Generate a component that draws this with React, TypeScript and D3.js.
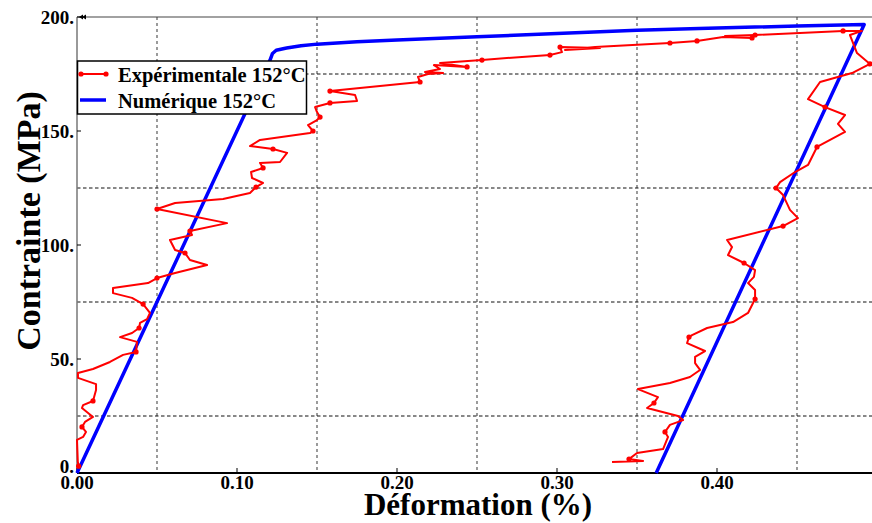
import React from "react";
import * as d3 from "d3";

const xTickValues = [0.0, 0.1, 0.2, 0.3, 0.4];
const xTickLabels = ["0.00", "0.10", "0.20", "0.30", "0.40"];
const xGridValues = [0.05, 0.15, 0.25, 0.35, 0.45];
const yTickValues = [0, 50, 100, 150, 200];
const yTickLabels = ["0.", "50.", "100.", "150.", "200."];
const yGridValues = [25, 75, 125, 175];

const expStrain = [
  0.001, 0.0005, 0.0, 0.0038, 0.0056, 0.0031, 0.005, 0.01, 0.0031, 0.0038,
  0.01, 0.0119, 0.0119, 0.0006, 0.0006, 0.01, 0.0206, 0.0288, 0.0369, 0.0375,
  0.0269, 0.0344, 0.0388, 0.0394, 0.0438, 0.0456, 0.0413, 0.0344, 0.0225, 0.0225,
  0.0444, 0.05, 0.0613, 0.0813, 0.0706, 0.0675, 0.0613, 0.0581, 0.0719, 0.0706,
  0.0938, 0.05, 0.0613, 0.0913, 0.1081, 0.1119, 0.1163, 0.1094, 0.1088, 0.1163,
  0.1144, 0.1269, 0.1313, 0.1225, 0.1081, 0.1144, 0.1456, 0.1475, 0.1444, 0.15,
  0.1519, 0.15, 0.1488, 0.1581, 0.175, 0.1738, 0.1581, 0.2144, 0.2131, 0.2194,
  0.2288, 0.2175, 0.2269, 0.2231, 0.2438, 0.2269, 0.2531, 0.2781, 0.2956, 0.3031,
  0.3019, 0.3269, 0.305, 0.3238, 0.3706, 0.3875, 0.4038, 0.4219, 0.405, 0.4238,
  0.4788, 0.4906, 0.4831, 0.4875, 0.4956, 0.4844, 0.4644, 0.4569, 0.4675, 0.48,
  0.4756, 0.48, 0.4625, 0.4569, 0.4488, 0.4394, 0.4369, 0.4413, 0.4456, 0.4506,
  0.4413, 0.4063, 0.4094, 0.4069, 0.4169, 0.4238, 0.4231, 0.4194, 0.4238, 0.4238,
  0.4194, 0.41, 0.3938, 0.3844, 0.3825, 0.3813, 0.3925, 0.3863, 0.3863, 0.3894,
  0.3831, 0.3706, 0.3506, 0.3631, 0.3606, 0.3563, 0.3756, 0.3788, 0.3706, 0.3675,
  0.3694, 0.3663, 0.35, 0.345, 0.3538, 0.3344,
];
const expStress = [
  3.0, 5.0, 14.5, 15.8, 18.0, 20.2, 22.4, 24.6, 28.5, 29.8,
  31.6, 36.4, 39.0, 41.7, 43.9, 45.6, 48.7, 51.8, 53.1, 57.5,
  59.6, 61.4, 63.6, 65.8, 67.5, 70.2, 74.1, 76.8, 78.9, 81.1,
  83.3, 85.5, 87.7, 91.2, 93.4, 96.5, 97.8, 102.2, 104.4, 106.1,
  109.6, 115.8, 118.4, 120.2, 122.8, 125.4, 127.2, 129.4, 132.0, 133.8,
  136.0, 136.4, 140.4, 142.1, 143.4, 146.1, 149.1, 150.0, 152.6, 154.8,
  156.1, 158.3, 160.5, 162.3, 163.2, 165.8, 167.5, 171.5, 173.7, 175.0,
  175.4, 175.9, 177.2, 178.9, 178.1, 179.8, 181.1, 182.5, 183.3, 184.6,
  186.8, 186.4, 185.5, 186.8, 188.6, 189.5, 191.2, 190.8, 191.7, 192.1,
  193.9, 193.9, 192.1, 184.2, 179.4, 175.4, 171.5, 164.0, 160.5, 157.0,
  153.1, 149.6, 143.0, 135.1, 132.0, 127.6, 125.0, 121.9, 115.4, 111.8,
  108.3, 102.2, 99.1, 95.6, 92.1, 89.0, 86.0, 83.3, 80.3, 76.3,
  70.2, 66.2, 63.6, 60.5, 59.6, 57.0, 53.5, 50.9, 48.2, 45.2,
  42.1, 39.5, 36.8, 33.3, 30.7, 28.5, 25.0, 23.2, 21.1, 18.0,
  15.8, 10.5, 8.8, 6.1, 5.3, 4.8,
];
const expMarkerIdx = [
  0, 5, 10, 18, 22, 26, 31, 35, 39, 41, 45, 49, 53, 57, 60, 63, 66, 67, 74, 76,
  78, 80, 84, 85, 87, 89, 90, 94, 98, 102, 106, 110, 114, 119, 124, 134, 139, 143,
];

const numStrain = [0, 0.1206, 0.1222, 0.1245, 0.131, 0.14, 0.15, 0.175, 0.2, 0.25, 0.3, 0.35, 0.4, 0.45, 0.492, 0.362];
const numStress = [0, 181, 184.0, 185.4, 186.4, 187.4, 188.1, 189.1, 189.9, 191.3, 192.8, 194.2, 195.2, 196.0, 196.7, 0];

const legendLabels = ["Expérimentale 152°C", "Numérique 152°C"];
const xTitle = "Déformation (%)";
const yTitle = "Contrainte (MPa)";

const W = 872;
const H = 523;
const FONT = "'Liberation Serif', 'Times New Roman', serif";

export default function App() {
  const x = d3.scaleLinear().domain([0, 0.5]).range([77, 877]);
  const y = d3.scaleLinear().domain([0, 200]).range([473, 17]);

  const expPts: [number, number][] = expStrain.map((s, i) => [s, expStress[i]]);
  const numPts: [number, number][] = numStrain.map((s, i) => [s, numStress[i]]);
  const line = d3
    .line<[number, number]>()
    .x((d) => x(d[0]))
    .y((d) => y(d[1]));

  const x0 = x(0);
  const x1 = W;
  const yTop = y(200);
  const yBot = y(0);

  return (
    <svg
      width={W}
      height={H}
      style={{ position: "absolute", left: 0, top: 0, background: "#fff" }}
      fontFamily={FONT}
    >
      <rect x={0} y={0} width={W} height={H} fill="#fff" />
      {/* grid */}
      {xGridValues.map((v) => (
        <line
          key={"gx" + v}
          x1={x(v)}
          x2={x(v)}
          y1={yTop}
          y2={yBot}
          stroke="#666"
          strokeWidth={1.3}
          strokeDasharray="3,3"
        />
      ))}
      {yGridValues.map((v) => (
        <line
          key={"gy" + v}
          x1={x0}
          x2={x1}
          y1={y(v)}
          y2={y(v)}
          stroke="#111"
          strokeWidth={1}
          strokeDasharray="3.5,2.5"
        />
      ))}
      {/* frame */}
      <line x1={x0} x2={x1} y1={yTop} y2={yTop} stroke="#444" strokeWidth={1.2} />
      <line x1={x0} x2={x0} y1={yTop} y2={yBot} stroke="#777" strokeWidth={1.5} />
      <line x1={x0} x2={x1} y1={yBot} y2={yBot} stroke="#000" strokeWidth={2} />
      {/* ticks */}
      {xTickValues.map((v) => (
        <line key={"tx" + v} x1={x(v)} x2={x(v)} y1={yBot} y2={yBot - 5} stroke="#000" strokeWidth={1} />
      ))}
      {yTickValues.map((v) => (
        <line key={"ty" + v} x1={x0} x2={x0 + 4} y1={y(v)} y2={y(v)} stroke="#000" strokeWidth={1} />
      ))}
      <path d={`M${x0 + 2},${yTop} l4,-2.5 l0,5 z M${x0 + 5},${yTop} l4,-2.5 l0,5 z`} fill="#000" />
      {/* tick labels */}
      {xTickValues.map((v, i) => (
        <text
          key={"lx" + v}
          x={x(v)}
          y={489}
          textAnchor="middle"
          fontSize={19}
          fontWeight="bold"
        >
          {xTickLabels[i]}
        </text>
      ))}
      {yTickValues.map((v, i) => (
        <text
          key={"ly" + v}
          x={x0 - 3}
          y={v === 0 ? y(v) - 7 : y(v)}
          dy="0.35em"
          textAnchor="end"
          fontSize={19}
          fontWeight="bold"
        >
          {yTickLabels[i]}
        </text>
      ))}
      {/* titles */}
      <text x={478} y={515} textAnchor="middle" fontSize={31} fontWeight="bold">
        {xTitle}
      </text>
      <text
        transform={`translate(40,221) rotate(-90)`}
        textAnchor="middle"
        fontSize={34}
        fontWeight="bold"
      >
        {yTitle}
      </text>
      {/* series */}
      <path d={line(numPts) || ""} fill="none" stroke="#0000ff" strokeWidth={3.5} strokeLinejoin="round" />
      <path d={line(expPts) || ""} fill="none" stroke="#ff0000" strokeWidth={2} strokeLinejoin="round" />
      {expMarkerIdx.map((i) => (
        <circle key={"m" + i} cx={x(expPts[i][0])} cy={y(expPts[i][1])} r={2.6} fill="#ff0000" />
      ))}
      {/* legend */}
      <rect x={77.5} y={61} width={229} height={53} fill="#fff" stroke="#000" strokeWidth={1.5} />
      <line x1={81} x2={106} y1={74} y2={74} stroke="#ff0000" strokeWidth={2} />
      <circle cx={81} cy={74} r={2.6} fill="#ff0000" />
      <circle cx={106} cy={74} r={2.6} fill="#ff0000" />
      <line x1={80} x2={106} y1={100} y2={100} stroke="#0000ff" strokeWidth={3.5} />
      <text x={118} y={82} fontSize={20.5} fontWeight="bold">
        {legendLabels[0]}
      </text>
      <text x={118} y={108} fontSize={20.5} fontWeight="bold">
        {legendLabels[1]}
      </text>
    </svg>
  );
}
